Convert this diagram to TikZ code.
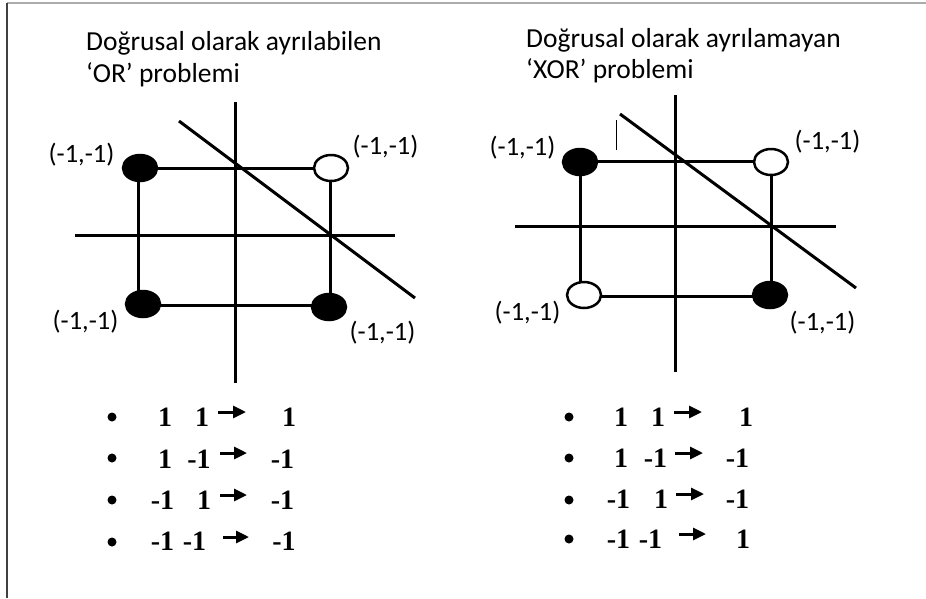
\documentclass[tikz,border=0pt]{standalone}
\usepackage{fontspec}
\setmainfont{Carlito}
\newfontfamily\numfont{Liberation Serif Bold}
\usetikzlibrary{shapes.geometric,arrows.meta}
\tikzset{
  ax/.style={line width=3pt,black},
  sq/.style={line width=3pt,black},
  dot/.style={ellipse,draw=black,line width=2.5pt,inner sep=0pt,minimum width=34pt,minimum height=26pt},
  fdot/.style={dot,fill=black},
  odot/.style={dot,fill=white},
  lbl/.style={font=\fontsize{26.5}{30}\selectfont,inner sep=0pt},
  ttl/.style={font=\fontsize{27.5}{32}\selectfont,inner sep=0pt,anchor=base west},
  num/.style={font=\numfont\fontsize{28}{32}\selectfont,inner sep=0pt,anchor=base},
  arr/.style={line width=3pt,-{Triangle[length=13pt,width=12pt]}},
  bul/.style={circle,fill=black,inner sep=0pt,minimum size=9pt}
}
\begin{document}
\begin{tikzpicture}[x=1pt,y=-1pt]
\useasboundingbox (0,0) rectangle (926,598);
% frame
\coordinate (fa) at (7,3); \coordinate (fb) at (926,3); \coordinate (fc) at (7,598);
\draw[line width=2pt,gray!65] (fa) -- (fb);
\draw[line width=2pt,black!75] (fa) -- (fc);

% ---------- left diagram ----------
\node[ttl] (t1a) at (86,50) {Doğrusal olarak ayrılabilen};
\node[ttl] (t1b) at (86,82) {‘OR’ problemi};
\coordinate (lvt) at (235,102); \coordinate (lvb) at (235,383);
\coordinate (lhl) at (75,235); \coordinate (lhr) at (395,235);
\draw[ax] (lvt) -- (lvb);
\draw[ax] (lhl) -- (lhr);
\coordinate (lTL) at (138,168); \coordinate (lTR) at (330,168);
\coordinate (lBL) at (138,305); \coordinate (lBR) at (330,305);
\draw[sq] (lTL) -- (lTR) -- (lBR) -- (lBL) -- cycle;
\node[fdot] (ltl) at (140,168) {};
\node[odot] (ltr) at (331,168) {};
\node[fdot] (lbl) at (143,304) {};
\node[fdot] (lbr) at (329,307) {};
\coordinate (ld1) at (179,121); \coordinate (ld2) at (415,298);
\draw[ax] (ld1) -- (ld2);
\node[lbl] (ltlL) at (81.5,155) {(-1,-1)};
\node[lbl] (ltrL) at (385.5,147) {(-1,-1)};
\node[lbl] (lblL) at (85.5,322) {(-1,-1)};
\node[lbl] (lbrL) at (382.5,333) {(-1,-1)};

% ---------- right diagram ----------
\node[ttl] (t2a) at (526,47) {Doğrusal olarak ayrılamayan};
\node[ttl] (t2b) at (526,78) {‘XOR’ problemi};
\coordinate (rvt) at (675,95); \coordinate (rvb) at (675,372);
\coordinate (rhl) at (515,226); \coordinate (rhr) at (836,226);
\draw[ax] (rvt) -- (rvb);
\draw[ax] (rhl) -- (rhr);
\coordinate (rTL) at (580,161); \coordinate (rTR) at (771,161);
\coordinate (rBL) at (580,296); \coordinate (rBR) at (771,296);
\draw[sq] (rTL) -- (rTR) -- (rBR) -- (rBL) -- cycle;
\node[fdot] (rtl) at (580,162) {};
\node[odot] (rtr) at (771,162) {};
\node[odot] (rbl) at (584,295) {};
\node[fdot] (rbr) at (770,295) {};
\coordinate (rd1) at (620,114); \coordinate (rd2) at (856,288);
\draw[ax] (rd1) -- (rd2);
\coordinate (rk1) at (616,120); \coordinate (rk2) at (616,150);
\draw[line width=1pt] (rk1) -- (rk2);
\node[lbl] (rtlL) at (522.5,148) {(-1,-1)};
\node[lbl] (rtrL) at (827.5,142) {(-1,-1)};
\node[lbl] (rblL) at (527.5,313) {(-1,-1)};
\node[lbl] (rbrL) at (822.5,323) {(-1,-1)};

% ---------- left list ----------
\node[bul] (lb1) at (112,417) {};
\node[bul] (lb2) at (112,458) {};
\node[bul] (lb3) at (112,500) {};
\node[bul] (lb4) at (112,542) {};
\node[num] (l1a) at (165,426) {1};
\node[num] (l1b) at (202,426) {1};
\node[num] (l1c) at (289,426) {1};
\coordinate (la1s) at (218,412); \coordinate (la1e) at (246,412);
\draw[arr] (la1s) -- (la1e);
\node[num] (l2a) at (165,468) {1};
\node[num] (l2b) at (199,468) {-1};
\node[num] (l2c) at (282.5,468) {-1};
\coordinate (la2s) at (220,453); \coordinate (la2e) at (247,453);
\draw[arr] (la2s) -- (la2e);
\node[num] (l3a) at (162.5,509) {-1};
\node[num] (l3b) at (204,509) {1};
\node[num] (l3c) at (282.5,509) {-1};
\coordinate (la3s) at (220,495); \coordinate (la3e) at (247,495);
\draw[arr] (la3s) -- (la3e);
\node[num] (l4a) at (162.5,550) {-1};
\node[num] (l4b) at (194.5,550) {-1};
\node[num] (l4c) at (284,550) {-1};
\coordinate (la4s) at (223,537); \coordinate (la4e) at (249,537);
\draw[arr] (la4s) -- (la4e);

% ---------- right list ----------
\node[bul] (rb1) at (569,417) {};
\node[bul] (rb2) at (569,458) {};
\node[bul] (rb3) at (569,500) {};
\node[bul] (rb4) at (569,539) {};
\node[num] (r1a) at (621,426) {1};
\node[num] (r1b) at (658,426) {1};
\node[num] (r1c) at (746,426) {1};
\coordinate (ra1s) at (674,412); \coordinate (ra1e) at (702,412);
\draw[arr] (ra1s) -- (ra1e);
\node[num] (r2a) at (621,467) {1};
\node[num] (r2b) at (655.5,467) {-1};
\node[num] (r2c) at (737.5,467) {-1};
\coordinate (ra2s) at (675,453); \coordinate (ra2e) at (703,453);
\draw[arr] (ra2s) -- (ra2e);
\node[num] (r3a) at (618.5,508) {-1};
\node[num] (r3b) at (661,508) {1};
\node[num] (r3c) at (737.5,508) {-1};
\coordinate (ra3s) at (676,494); \coordinate (ra3e) at (704,494);
\draw[arr] (ra3s) -- (ra3e);
\node[num] (r4a) at (618.5,548) {-1};
\node[num] (r4b) at (650.5,548) {-1};
\node[num] (r4c) at (743,548) {1};
\coordinate (ra4s) at (679,534) ; \coordinate (ra4e) at (706,534);
\draw[arr] (ra4s) -- (ra4e);
\end{tikzpicture}
\end{document}
